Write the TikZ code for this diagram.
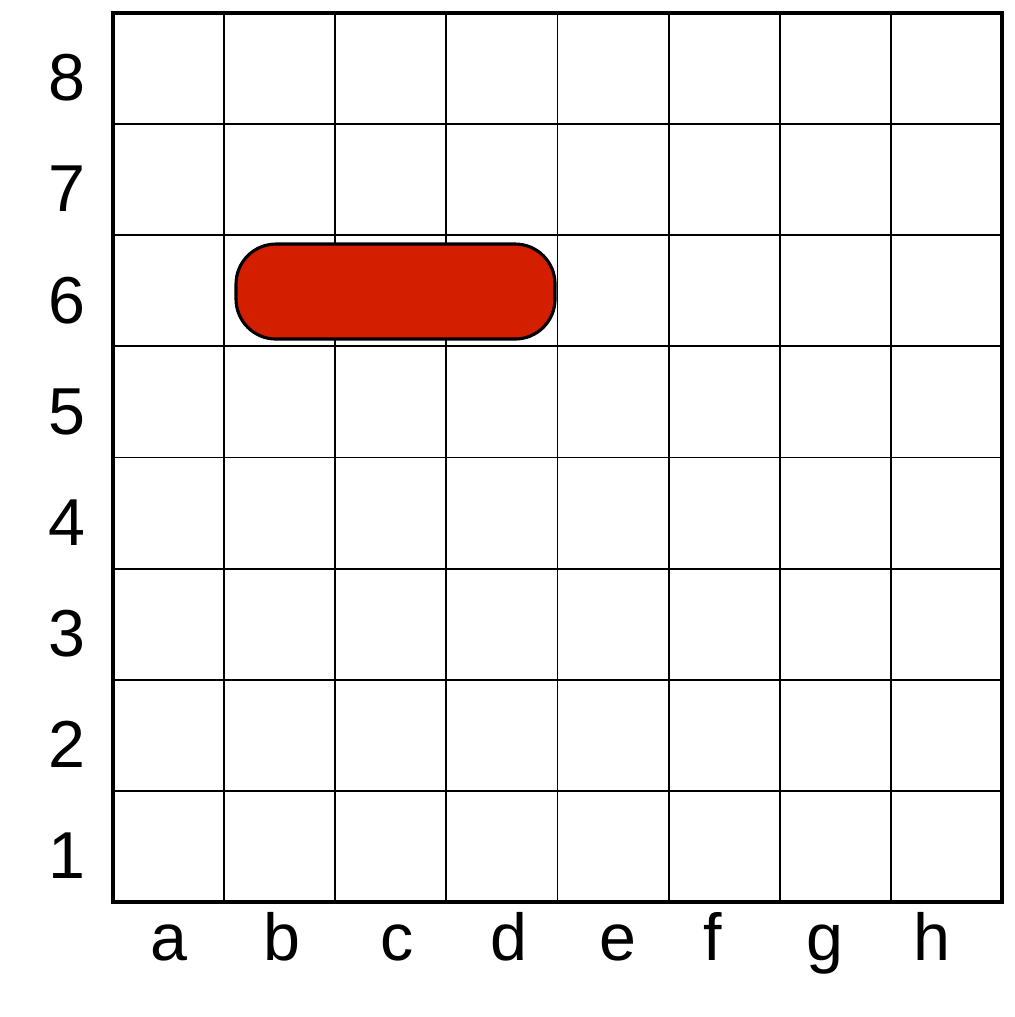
\documentclass[tikz,border=0pt]{standalone}
\usepackage{fontspec}
\setmainfont{Liberation Sans}
\usepackage{xcolor}
\usepackage{tikz}
\usetikzlibrary{positioning}
\definecolor{piecered}{HTML}{D41E00}
\tikzset{
  cellline/.style={draw=black,line width=0.5pt},
  frame/.style   ={draw=black,line width=1.2pt,line cap=rect},
  piece/.style   ={draw=black,line width=0.8pt,fill=piecered,rounded corners=0.36cm},
  coordlbl/.style={font=\fontsize{17}{20}\selectfont,anchor=base,inner sep=0pt}
}

\begin{document}
\begin{tikzpicture}
        \useasboundingbox (-1.017,-1.035) rectangle (8.11,8.117);
        % grid
        \foreach \i in {1,...,7} {
          \draw[cellline] (\i,0) -- (\i,8);
          \draw[cellline] (0,\i) -- (8,\i);
        }
        \draw[frame] (0,0) rectangle (8,8);
        % piece on b6-d6
        \draw[piece] (1.107,5.066) rectangle (3.978,5.921);
        % ranks and files
        \foreach \r in {1,...,8}
          \node[coordlbl] (rank\r) at (-0.41,\r-0.79) {\r};
        \foreach \f/\x in {a/0.50,b/1.52,c/2.56,d/3.56,e/4.54,f/5.40,g/6.41,h/7.37}
          \node[coordlbl] (file\f) at (\x,-0.53) {\f};
      \end{tikzpicture}
\end{document}
